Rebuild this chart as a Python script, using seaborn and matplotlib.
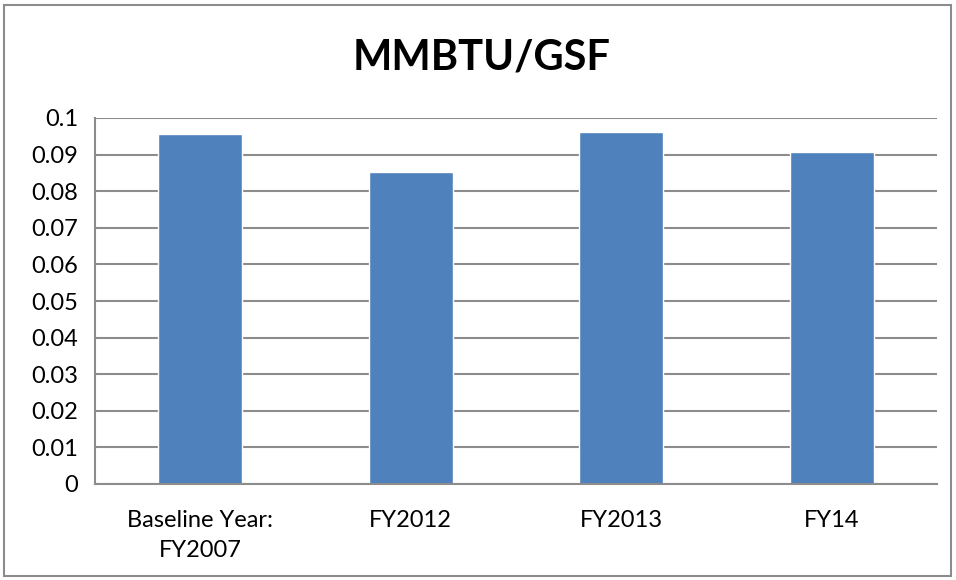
import matplotlib
matplotlib.use("Agg")
import matplotlib.pyplot as plt
import seaborn as sns
import numpy as np
from matplotlib.patches import Rectangle

categories = ["Baseline Year:\nFY2007", "FY2012", "FY2013", "FY14"]
values = [0.0955, 0.0852, 0.0963, 0.0906]
yticks = [0, 0.01, 0.02, 0.03, 0.04, 0.05, 0.06, 0.07, 0.08, 0.09, 0.1]
ytick_labels = ["0", "0.01", "0.02", "0.03", "0.04", "0.05", "0.06", "0.07", "0.08", "0.09", "0.1"]

sns.set_style("white")
plt.rcParams['font.family'] = ['Lato', 'DejaVu Sans']
plt.rcParams['text.color'] = 'black'

fig = plt.figure(figsize=(9.56, 5.80), dpi=100)
ax = fig.add_axes([95/956, 1 - 484/580, (937-95)/956, (484-118)/580])

sns.barplot(x=categories, y=values, color="#4F81BD", width=0.4, ax=ax, saturation=1)

ax.set_ylim(0, 0.1)
ax.set_xlim(-0.5, 3.5)
ax.set_yticks(yticks)
ax.set_yticklabels(ytick_labels, fontsize=17)
ax.yaxis.grid(True, color="#8C8C8C", linewidth=1.5)
ax.set_axisbelow(True)

ax.set_xticks(range(len(categories)))
ax.set_xticklabels(categories, fontsize=17, linespacing=1.5, va='top')
ax.set_xticks(np.arange(-0.5, 4.0, 1.0), minor=True)
ax.tick_params(axis='x', which='major', length=0, pad=19, labelcolor='black')
ax.tick_params(axis='x', which='minor', length=7, color="#8C8C8C", width=1.2, direction='out')
ax.tick_params(axis='y', which='major', length=6, color="#8C8C8C", width=1.2, direction='out', pad=6, labelcolor='black')

for s in ["top", "right"]:
    ax.spines[s].set_visible(False)
for s in ["left", "bottom"]:
    ax.spines[s].set_color("#8C8C8C")
    ax.spines[s].set_linewidth(1.5)

ax.set_xlabel("")
ax.set_ylabel("")

fig.text(482/956, 1 - 57/580, "MMBTU/GSF", ha='center', va='center',
         fontsize=30, fontweight='bold', color='black')

fig.patches.append(Rectangle((4/956, 4/580), 1 - 9/956, 1 - 9/580, transform=fig.transFigure,
                             fill=False, edgecolor="#8C8C8C", linewidth=1.5))

fig.savefig("out.png", dpi=100)
